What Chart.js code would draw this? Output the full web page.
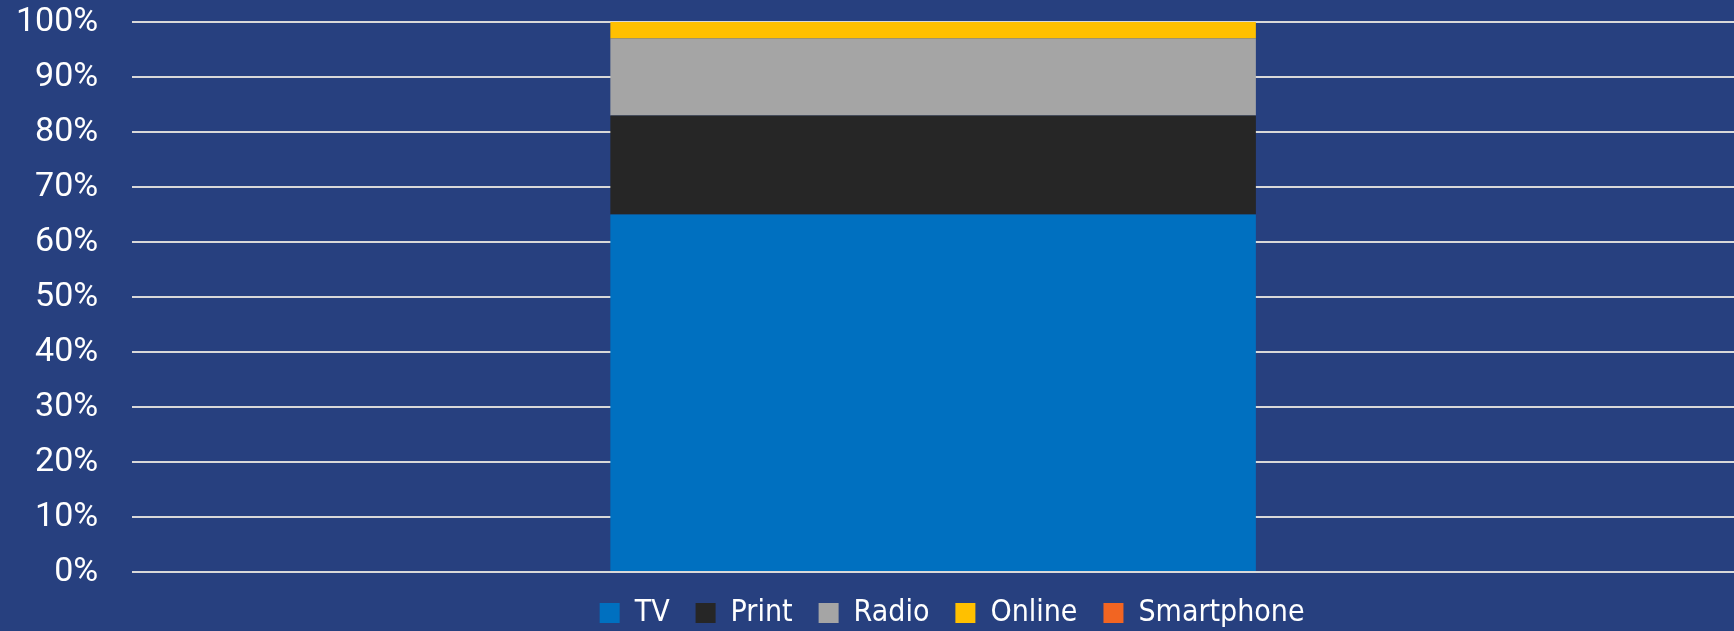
<!DOCTYPE html>
<html>
<head>
<meta charset="utf-8">
<script src="https://cdn.jsdelivr.net/npm/chart.js@4/dist/chart.umd.min.js"></script>
<style>
  html, body { margin: 0; padding: 0; background: #27407f; }
  #wrap { width: 1734px; height: 631px; }
</style>
</head>
<body>
<div id="wrap"><canvas id="myChart"></canvas></div>
<script>
const categories = [''];
const seriesNames = ['TV', 'Print', 'Radio', 'Online', 'Smartphone'];
const tv = [65];
const print = [18];
const radio = [14];
const online = [3];
const smartphone = [0];
const colors = ['#0070c0', '#262626', '#a5a5a5', '#ffc000', '#f26522'];

const seriesValues = [tv, print, radio, online, smartphone];

// legend in the original sits a bit right of the plot centre
const legendShift = {
    id: 'legendShift',
    afterLayout(chart) {
        chart.legend.left += 19;
        chart.legend.right += 19;
    }
};

const ctx = document.getElementById('myChart').getContext('2d');

new Chart(ctx, {
    type: 'bar',
    data: {
        labels: categories,
        datasets: seriesNames.map((name, i) => ({
            label: name,
            data: seriesValues[i],
            backgroundColor: colors[i],
            borderWidth: 0,
            barPercentage: 1,
            categoryPercentage: 0.403,
        })),
    },
    plugins: [legendShift],
    options: {
        responsive: true,
        maintainAspectRatio: false,
        animation: false,
        layout: { padding: { top: 22, right: 0, left: 16, bottom: -7 } },
        scales: {
            x: {
                stacked: true,
                display: false,
            },
            y: {
                stacked: true,
                min: 0,
                max: 100,
                border: { display: false },
                // tick marks kept invisible, they only make the gap before the labels
                grid: { color: '#d9d9d9', lineWidth: 2, tickLength: 34, tickColor: 'transparent' },
                ticks: {
                    stepSize: 10,
                    padding: 0,
                    color: '#ffffff',
                    font: { family: 'Roboto', size: 34 },
                    callback: value => value + '%',
                },
            },
        },
        plugins: {
            legend: {
                position: 'bottom',
                fullSize: false,
                labels: {
                    color: '#ffffff',
                    boxWidth: 20,
                    boxHeight: 20,
                    padding: 26,
                    font: { family: 'DejaVu Sans Condensed', size: 30 },
                },
            },
            tooltip: { enabled: false },
        },
    },
});
</script>
</body>
</html>
